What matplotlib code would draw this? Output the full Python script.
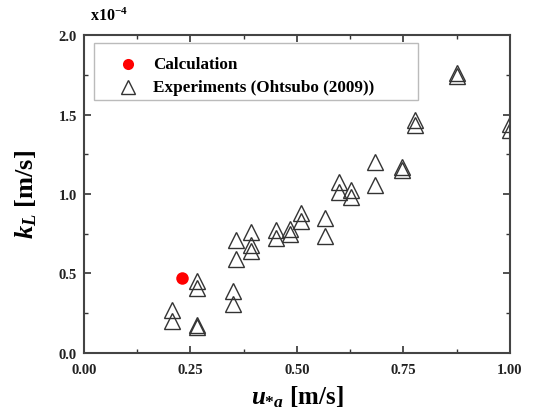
import matplotlib
matplotlib.use("Agg")
import matplotlib.pyplot as plt
from matplotlib.ticker import MultipleLocator
from matplotlib.patches import Rectangle
from matplotlib.lines import Line2D

plt.rcParams['font.family'] = ['Liberation Serif', 'DejaVu Serif']
plt.rcParams['font.weight'] = 'bold'
plt.rcParams['mathtext.fontset'] = 'custom'
plt.rcParams['mathtext.it'] = 'Liberation Serif:italic:bold'
plt.rcParams['mathtext.rm'] = 'Liberation Serif:bold'
plt.rcParams['mathtext.bf'] = 'Liberation Serif:bold'

# Calculation point (kL in units of 1e-4 m/s)
calc_u = [0.230]
calc_k = [0.471]

# Experiments (Ohtsubo 2009)
exp_u = [0.207, 0.207, 0.265, 0.265, 0.266, 0.266, 0.350, 0.350, 0.358, 0.358,
         0.392, 0.392, 0.392, 0.451, 0.451, 0.483, 0.483, 0.510, 0.510, 0.565,
         0.565, 0.598, 0.598, 0.627, 0.627, 0.684, 0.684, 0.746, 0.746, 0.777,
         0.777, 0.875, 0.875, 1.000, 1.000]
exp_k = [0.268, 0.199, 0.178, 0.160, 0.450, 0.410, 0.390, 0.310, 0.711, 0.588,
         0.759, 0.676, 0.640, 0.776, 0.724, 0.780, 0.745, 0.879, 0.830, 0.847,
         0.738, 1.077, 1.010, 1.025, 0.983, 1.199, 1.056, 1.167, 1.153, 1.467,
         1.433, 1.760, 1.740, 1.440, 1.400]

labels = ['Calculation', 'Experiments (Ohtsubo (2009))']

fig = plt.figure(figsize=(5.34, 4.10), dpi=100)
ax = fig.add_axes([0.157, 0.137, 0.798, 0.775])

tri_kw = dict(markerfacecolor='none', markeredgecolor='#333333',
              markersize=11, markeredgewidth=1.0, linestyle='none')
circ_kw = dict(color='#ff0000', markersize=9, markeredgewidth=0, linestyle='none')

ax.plot(calc_u, calc_k, 'o', zorder=3, **circ_kw)
ax.plot(exp_u, exp_k, '^', zorder=2, **tri_kw)

ax.set_xlim(0, 1.0)
ax.set_ylim(0, 2.0)
ax.xaxis.set_major_locator(MultipleLocator(0.25))
ax.xaxis.set_minor_locator(MultipleLocator(0.125))
ax.yaxis.set_major_locator(MultipleLocator(0.5))
ax.yaxis.set_minor_locator(MultipleLocator(0.25))
ax.set_xticklabels([f'{v:.2f}' for v in ax.get_xticks()])
ax.set_yticklabels([f'{v:.1f}' for v in ax.get_yticks()])

ax.tick_params(which='both', direction='in', top=True, right=True,
               labelsize=10.5, colors='#333333', labelcolor='#222222')
ax.tick_params(axis='x', which='major', pad=7)
ax.tick_params(axis='y', which='major', pad=5)
ax.tick_params(which='major', length=5, width=1.2)
ax.tick_params(which='minor', length=3, width=1.0)
for s in ax.spines.values():
    s.set_linewidth(1.5)
    s.set_color('#444444')

ax.set_xlabel(r'$u_{*a}$ [m/s]', fontsize=18, fontweight='bold', labelpad=6)
ax.set_ylabel(r'$k_L$ [m/s]', fontsize=19, fontweight='bold', labelpad=14)

ax.text(0.014, 1.035, r'x10$^{-4}$', transform=ax.transAxes, fontsize=11.5,
        fontweight='bold', ha='left', va='bottom')

# legend box
ax.add_patch(Rectangle((0.023, 0.796), 0.761, 0.179, transform=ax.transAxes,
                       facecolor='white', edgecolor='#bbbbbb', linewidth=1.0,
                       zorder=4))
rows_y = [0.908, 0.838]
leg_circ = dict(circ_kw, markersize=8)
leg_tri = dict(tri_kw, markersize=9.5)
ax.add_line(Line2D([0.103], [rows_y[0]], marker='o', transform=ax.transAxes,
                   zorder=5, **leg_circ))
ax.add_line(Line2D([0.103], [rows_y[1]], marker='^', transform=ax.transAxes,
                   zorder=5, **leg_tri))
for yy, lab in zip(rows_y, labels):
    ax.text(0.162, yy, lab, transform=ax.transAxes, fontsize=12.3,
            fontweight='bold', ha='left', va='center', zorder=5)

fig.savefig('out.png', dpi=100)
